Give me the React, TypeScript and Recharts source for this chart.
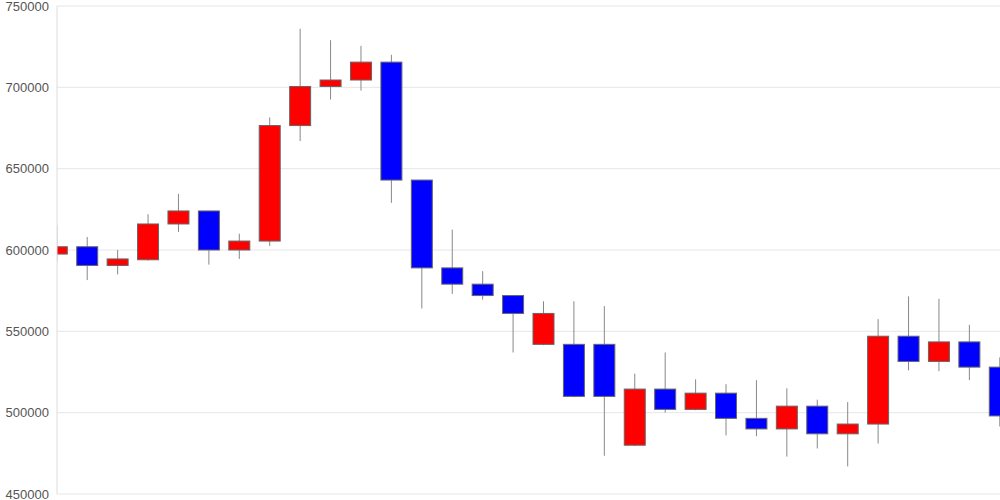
import React from "react";
import { ComposedChart, Bar, XAxis, YAxis, CartesianGrid } from "recharts";

const days = [0, 1, 2, 3, 4, 5, 6, 7, 8, 9, 10, 11, 12, 13, 14, 15, 16, 17, 18, 19, 20, 21, 22, 23, 24, 25, 26, 27, 28, 29, 30, 31];

const openValues = [
  597500, 602000, 590500, 594000, 616000, 624000, 600000, 605500, 676500, 700500, 704500, 715500,
  643000, 589000, 579000, 572000, 542000, 542000, 542000, 480000, 514500, 502000, 512000, 496500,
  490000, 504000, 487000, 493000, 547000, 531500, 543500, 528000,
];
const highValues = [
  615000, 608000, 600000, 622000, 634500, 624000, 610000, 681500, 736000, 729000, 725500, 720000,
  643000, 612500, 587000, 572000, 568500, 568500, 565500, 524000, 537000, 520500, 517500, 520000,
  515000, 508000, 506500, 557500, 571500, 570000, 554000, 534000,
];
const lowValues = [
  593000, 581500, 585000, 593500, 611000, 591000, 594500, 602500, 667000, 692500, 698000, 629000,
  564000, 573000, 569500, 537000, 541500, 509500, 473500, 479500, 500000, 501500, 486000, 485500,
  473000, 478000, 467000, 481000, 526000, 525500, 520000, 491500,
];
const closeValues = [
  602000, 590500, 594500, 616000, 624000, 600000, 605500, 676500, 700500, 704500, 715500, 643000,
  589000, 579000, 572000, 561000, 561000, 510000, 510000, 514500, 502000, 512000, 496500, 490000,
  504000, 487000, 493000, 547000, 531500, 543500, 528000, 498000,
];

const yTicks = [450000, 500000, 550000, 600000, 650000, 700000, 750000];

const UP_COLOR = "#ff0000";
const DOWN_COLOR = "#0000ff";

const data = days.map((day, i) => ({
  day,
  open: openValues[i],
  high: highValues[i],
  low: lowValues[i],
  close: closeValues[i],
  range: [lowValues[i], highValues[i]],
}));

// x/y/width/height come from the bar drawn over [low, high]; open/close are placed on the same scale
const Candle = (props: any) => {
  const { x, y, width, height, payload } = props;
  if (!payload) return null;
  const { open, close, high, low } = payload;
  const span = high - low || 1;
  const toY = (v: number) => y + ((high - v) / span) * height;
  const cx = x + width / 2;
  const top = toY(Math.max(open, close));
  const bottom = toY(Math.min(open, close));
  const up = close >= open;
  return (
    <g>
      <line x1={cx} x2={cx} y1={y} y2={y + height} stroke="#888" strokeWidth={1} />
      <rect
        x={x + 0.5}
        y={top}
        width={width - 1}
        height={Math.max(bottom - top, 1)}
        fill={up ? UP_COLOR : DOWN_COLOR}
        stroke="#666"
        strokeWidth={1}
      />
    </g>
  );
};

export default function App() {
  return (
    <div style={{ position: "absolute", left: 0, top: 0, width: 1000, height: 500, background: "#fff" }}>
      <ComposedChart width={1000} height={500} data={data} margin={{ top: 6, right: 0, bottom: 6, left: 0 }}>
        <CartesianGrid vertical={false} stroke="#e6e6e6" />
        <XAxis dataKey="day" type="number" domain={[0, 31]} allowDataOverflow hide />
        <YAxis
          type="number"
          domain={[450000, 750000]}
          ticks={yTicks}
          width={57}
          tickLine={false}
          axisLine={{ stroke: "#dcdcdc" }}
          tick={{ fill: "#555", fontSize: 13, fontFamily: "Liberation Sans, Arial, sans-serif" }}
          interval={0}
        />
        <Bar dataKey="range" barSize={22} shape={<Candle />} isAnimationActive={false} />
      </ComposedChart>
    </div>
  );
}
